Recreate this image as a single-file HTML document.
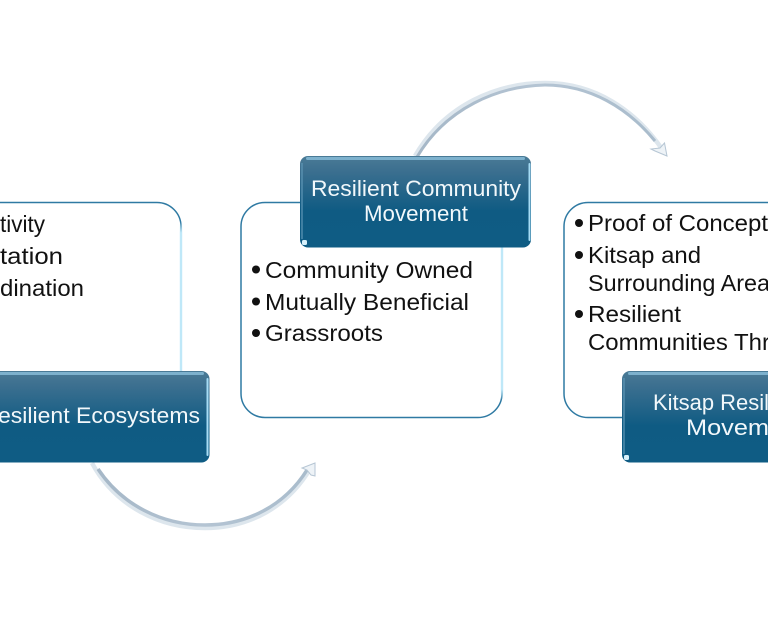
<!DOCTYPE html>
<html><head><meta charset="utf-8"><style>
html,body{margin:0;padding:0;background:#fff;overflow:hidden}
svg{display:block}
text{font-family:"Liberation Sans",sans-serif}
.b{font-size:23px;fill:#111}
.w{font-size:22px;fill:#f2f8fb}
</style></head><body>
<svg width="768" height="619" viewBox="0 0 768 619" xmlns="http://www.w3.org/2000/svg">
<defs>
<linearGradient id="blue" x1="0" y1="0" x2="0" y2="1">
<stop offset="0" stop-color="#4a7b96"/><stop offset=".15" stop-color="#3d7090"/><stop offset=".6" stop-color="#0f5b83"/><stop offset="1" stop-color="#0f5c84"/>
</linearGradient>
<linearGradient id="edge" x1="0" y1="0" x2="0" y2="1">
<stop offset="0" stop-color="#bfe8f8" stop-opacity="0"/><stop offset=".06" stop-color="#bfe8f8"/><stop offset=".94" stop-color="#bfe8f8"/><stop offset="1" stop-color="#bfe8f8" stop-opacity="0"/>
</linearGradient>
<linearGradient id="arc" x1="0" y1="0" x2="1" y2="0">
<stop offset="0" stop-color="#a5b7c7"/><stop offset=".5" stop-color="#b4c4d3"/><stop offset="1" stop-color="#a9bccc"/>
</linearGradient>
</defs>

<!-- content panels -->
<rect x="-80" y="202.500" width="261" height="215" rx="24" fill="#fff" stroke="#2f7aa3" stroke-width="1.500"/>
<rect x="179.800" y="222" width="2.400" height="178" fill="url(#edge)"/>
<rect x="241" y="202.500" width="261" height="215" rx="24" fill="#fff" stroke="#2f7aa3" stroke-width="1.500"/>
<rect x="500.800" y="222" width="2.400" height="178" fill="url(#edge)"/>
<rect x="564" y="202.500" width="261" height="215" rx="24" fill="#fff" stroke="#2f7aa3" stroke-width="1.500"/>

<!-- curved arrows -->
<path d="M415 156C445 104 498 83 545 83C595 83 635 110 662 149" fill="none" stroke="#dde6ed" stroke-width="4.500"/>
<path d="M417 157C446 108 498 86 545 85C590 85 628 108 655 141" fill="none" stroke="url(#arc)" stroke-width="3"/>
<path d="M667 156L664.500 143L660 148L651 149L655 151Z" fill="#eef3f7" stroke="#b6c6d4" stroke-width="1"/>
<path d="M92 463C115 506 160 528 205 528C250 528 288 506 310 469" fill="none" stroke="#dde6ed" stroke-width="4.500"/>
<path d="M98 469C122 505 162 525 205 525C248 525 285 505 307 470" fill="none" stroke="url(#arc)" stroke-width="3.500"/>
<path d="M315 463L302 468L307 470L311 475L315 476Z" fill="#eef3f7" stroke="#b6c6d4" stroke-width="1"/>

<!-- panel text -->
<g>
<text class="b" x="0" y="232" textLength="45" lengthAdjust="spacingAndGlyphs">tivity</text>
<text class="b" x="0" y="264" textLength="63" lengthAdjust="spacingAndGlyphs">tation</text>
<text class="b" x="0" y="296" textLength="84" lengthAdjust="spacingAndGlyphs">dination</text>

<circle cx="256" cy="269.500" r="4" fill="#111"/><text class="b" x="265" y="278" textLength="208" lengthAdjust="spacingAndGlyphs">Community Owned</text>
<circle cx="256" cy="301.500" r="4" fill="#111"/><text class="b" x="265" y="310" textLength="204" lengthAdjust="spacingAndGlyphs">Mutually Beneficial</text>
<circle cx="256" cy="333" r="4" fill="#111"/><text class="b" x="265" y="341" textLength="118" lengthAdjust="spacingAndGlyphs">Grassroots</text>

<circle cx="579" cy="223" r="4" fill="#111"/><text class="b" x="588" y="231" textLength="180" lengthAdjust="spacingAndGlyphs">Proof of Concept</text>
<circle cx="579" cy="255" r="4" fill="#111"/><text class="b" x="588" y="263" textLength="113" lengthAdjust="spacingAndGlyphs">Kitsap and</text>
<text class="b" x="588" y="291" textLength="182" lengthAdjust="spacingAndGlyphs">Surrounding Area</text>
<circle cx="579" cy="314" r="4" fill="#111"/><text class="b" x="588" y="322" textLength="93" lengthAdjust="spacingAndGlyphs">Resilient</text>
<text class="b" x="588" y="350" textLength="182" lengthAdjust="spacingAndGlyphs">Communities Thr</text>
</g>

<!-- left blue box -->
<rect x="-30" y="371" width="239.500" height="91.500" rx="8" fill="url(#blue)"/>
<rect x="-30" y="372" width="234" height="3" rx="1.500" fill="#8fc4e0" opacity=".75"/>
<rect x="206.500" y="378" width="2" height="78" rx="1" fill="#a6dcf5"/>
<text class="w" x="-2" y="423" textLength="202" lengthAdjust="spacingAndGlyphs">esilient Ecosystems</text>

<!-- center blue box -->
<rect x="300" y="156" width="231" height="91.500" rx="8" fill="url(#blue)"/>
<rect x="306" y="157" width="219" height="3" rx="1.500" fill="#8fc4e0" opacity=".75"/>
<rect x="301" y="163" width="2" height="76" fill="#5f97b8" opacity=".6"/>
<rect x="528.500" y="163" width="2" height="78" rx="1" fill="#a6dcf5"/>
<rect x="302" y="240" width="5" height="5" rx="1.500" fill="#d8f1fb"/>
<text class="w" x="311" y="196" textLength="210" lengthAdjust="spacingAndGlyphs">Resilient Community</text>
<text class="w" x="364" y="221" textLength="104" lengthAdjust="spacingAndGlyphs">Movement</text>

<!-- right blue box -->
<rect x="622" y="371" width="231" height="91.500" rx="8" fill="url(#blue)"/>
<rect x="628" y="372" width="219" height="3" rx="1.500" fill="#8fc4e0" opacity=".75"/>
<rect x="623" y="378" width="2" height="76" fill="#5f97b8" opacity=".6"/>
<rect x="624" y="455" width="5" height="5" rx="1.500" fill="#d8f1fb"/>
<text class="w" x="653" y="410" textLength="116" lengthAdjust="spacingAndGlyphs">Kitsap Resil</text>
<text class="w" x="686" y="435" textLength="83" lengthAdjust="spacingAndGlyphs">Movem</text>
</svg>
</body></html>
